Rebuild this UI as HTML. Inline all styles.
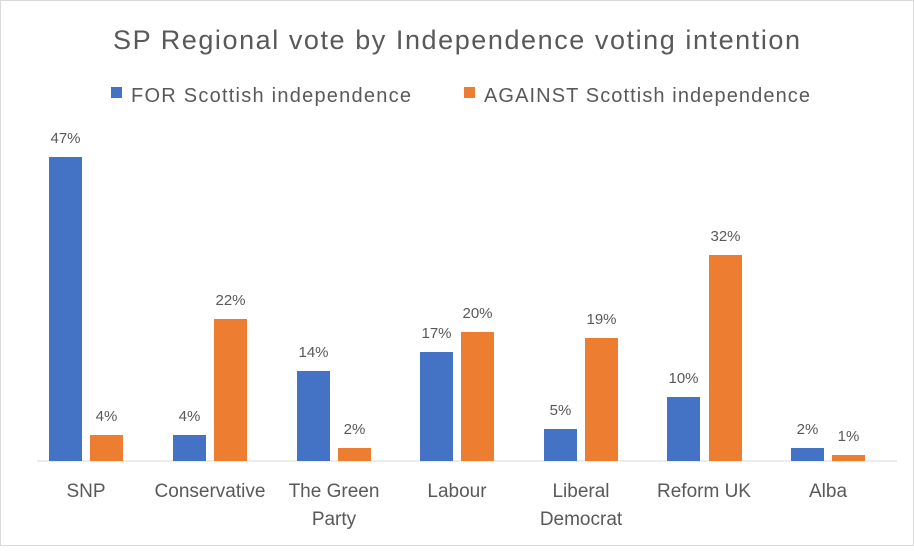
<!DOCTYPE html>
<html><head><style>
body{margin:0;background:#fff;}
svg text{font-family:"Liberation Sans",sans-serif;fill:#595959;}
</style></head><body>
<svg width="914" height="546" xmlns="http://www.w3.org/2000/svg">
<rect x="0.5" y="0.5" width="913" height="545" fill="#fff" stroke="#D9D9D9"/>
<text x="113" y="49" font-size="27" textLength="687" lengthAdjust="spacing">SP Regional vote by Independence voting intention</text>
<rect x="111" y="87" width="11" height="11" fill="#4472C4"/>
<text x="131" y="102" font-size="20" textLength="280" lengthAdjust="spacing">FOR Scottish independence</text>
<rect x="464" y="87" width="11" height="11" fill="#ED7D31"/>
<text x="484" y="102" font-size="20" textLength="326" lengthAdjust="spacing">AGAINST Scottish independence</text>
<line x1="37" y1="461" x2="897" y2="461" stroke="#D9D9D9" stroke-width="1"/>
<g font-size="15" text-anchor="middle">
<rect x="49" y="157" width="33" height="304" fill="#4472C4"/><text x="65.5" y="143">47%</text>
<rect x="90" y="435" width="33" height="26" fill="#ED7D31"/><text x="106.5" y="421">4%</text>
<rect x="173" y="435" width="33" height="26" fill="#4472C4"/><text x="189.5" y="421">4%</text>
<rect x="214" y="319" width="33" height="142" fill="#ED7D31"/><text x="230.5" y="305">22%</text>
<rect x="297" y="371" width="33" height="90" fill="#4472C4"/><text x="313.5" y="357">14%</text>
<rect x="338" y="448" width="33" height="13" fill="#ED7D31"/><text x="354.5" y="434">2%</text>
<rect x="420" y="352" width="33" height="109" fill="#4472C4"/><text x="436.5" y="338">17%</text>
<rect x="461" y="332" width="33" height="129" fill="#ED7D31"/><text x="477.5" y="318">20%</text>
<rect x="544" y="429" width="33" height="32" fill="#4472C4"/><text x="560.5" y="415">5%</text>
<rect x="585" y="338" width="33" height="123" fill="#ED7D31"/><text x="601.5" y="324">19%</text>
<rect x="667" y="397" width="33" height="64" fill="#4472C4"/><text x="683.5" y="383">10%</text>
<rect x="709" y="255" width="33" height="206" fill="#ED7D31"/><text x="725.5" y="241">32%</text>
<rect x="791" y="448" width="33" height="13" fill="#4472C4"/><text x="807.5" y="434">2%</text>
<rect x="832" y="455" width="33" height="6" fill="#ED7D31"/><text x="848.5" y="441">1%</text>
</g>
<g font-size="19" text-anchor="middle">
<text x="86" y="497">SNP</text>
<text x="210" y="497">Conservative</text>
<text x="334" y="497">The Green</text><text x="334" y="525">Party</text>
<text x="457" y="497">Labour</text>
<text x="581" y="497">Liberal</text><text x="581" y="525">Democrat</text>
<text x="704" y="497">Reform UK</text>
<text x="828" y="497">Alba</text>
</g>
</svg>
</body></html>
